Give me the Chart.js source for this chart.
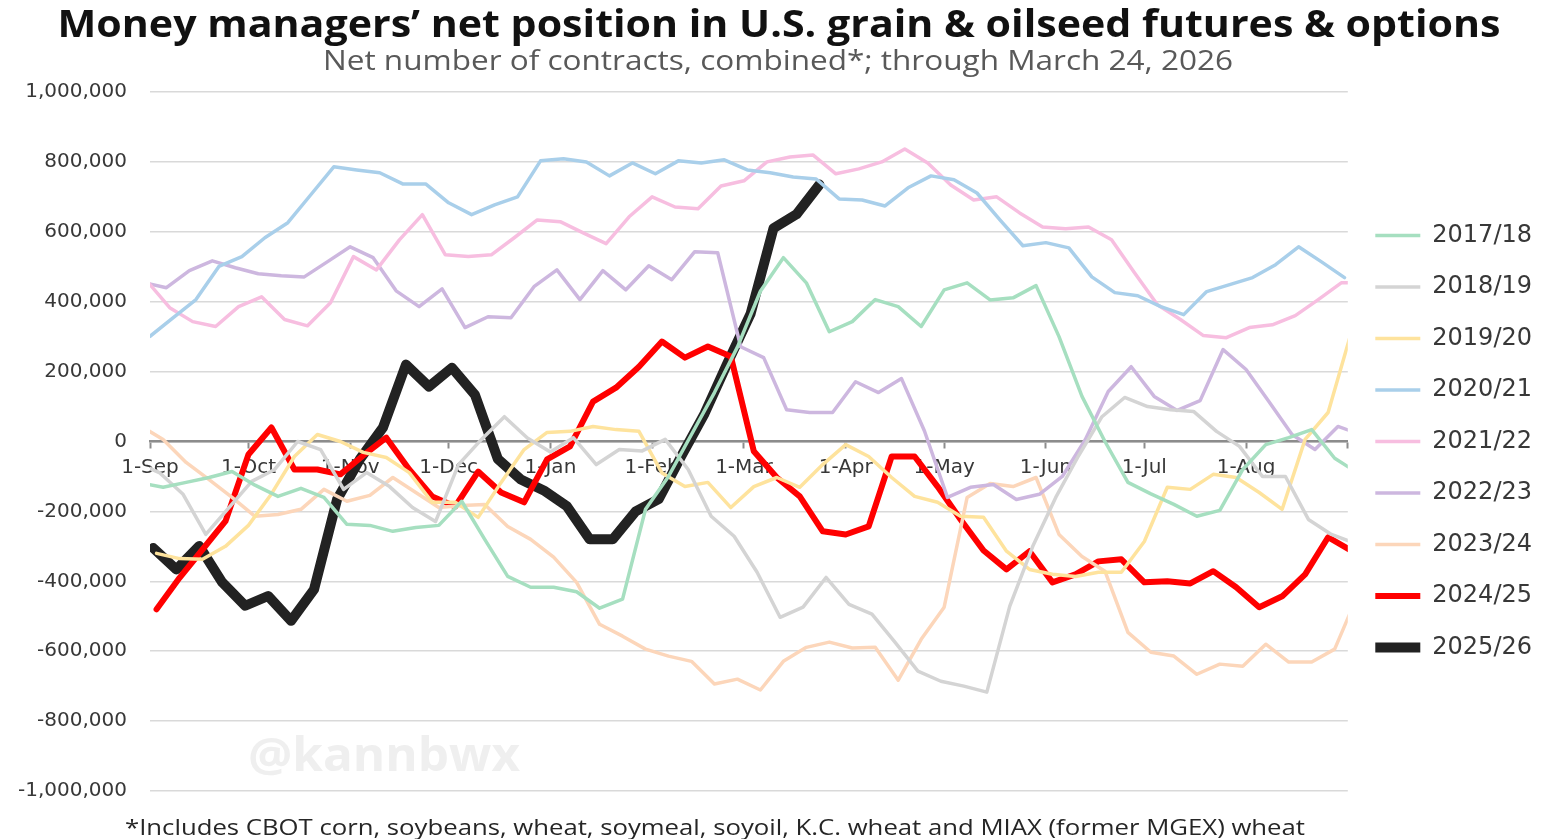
<!DOCTYPE html>
<html>
<head>
<meta charset="utf-8">
<title>Money managers' net position in U.S. grain & oilseed futures & options</title>
<script src="https://cdn.jsdelivr.net/npm/chart.js@4.4.1/dist/chart.umd.min.js"></script>
<style>
    html, body { margin: 0; padding: 0; background: #ffffff; }
    #wrap { width: 1542px; height: 839px; position: relative; }
</style>
</head>
<body>
<div id="wrap"><canvas id="chart"></canvas></div>
<script>
// -- Data --
// Net position of money managers, thousand contracts, one value per weekly (Tuesday) report
const seasons = ['2017/18', '2018/19', '2019/20', '2020/21', '2021/22', '2022/23', '2023/24', '2024/25', '2025/26'];

// Day of the first report in each list, counted from 1-Sep of the season
const firstReportDay = [-3, -4, 2, 0, -1, -2, -3, 2, 1];

const net1718 = [-118, -131, -117, -103, -86, -125, -157, -134, -160, -237, -240, -257, -246, -240, -171, -280, -386, -417,
    -417, -430, -477, -451, -194, -100, 20, 140, 270, 430, 526, 454, 314, 343, 406, 386, 329, 434, 454, 405, 411, 446,
    300, 129, 0, -117, -150, -180, -214, -197, -80, -9, 11, 34, -48, -90];
const net1819 = [-60, -90, -150, -266, -190, -114, -80, 0, -23, -137, -89, -129, -189, -229, -66, 6, 71, 10,
    -30, 11, -66, -23, -27, 6, -80, -214, -271, -374, -503, -474, -389, -466, -494, -574, -657, -686, -700, -717,
    -471, -300, -160, -40, 70, 126, 100, 91, 86, 29, -14, -100, -100, -223, -266, -290];
const net1920 = [-320, -335, -337, -300, -240, -150, -43, 20, 0, -31, -46, -89, -174, -174, -217, -117, -23, 26,
    29, 43, 34, 29, -90, -129, -117, -189, -129, -103, -131, -66, -9, -43, -103, -157, -174, -214, -217, -314,
    -366, -380, -386, -374, -374, -286, -131, -137, -94, -103, -146, -194, 6, 83, 310];
const net2021 = [301, 354, 406, 501, 529, 583, 626, 706, 786, 777, 769, 737, 737, 683, 649, 677, 700, 803,
    809, 800, 760, 797, 766, 803, 797, 806, 777, 769, 757, 751, 694, 691, 674, 726, 760, 749, 711, 634,
    560, 569, 554, 471, 426, 417, 386, 363, 429, 449, 469, 506, 557, 514, 469];
const net2122 = [460, 383, 343, 329, 386, 414, 349, 331, 397, 529, 491, 577, 649, 534, 529, 534, 583, 634,
    629, 597, 566, 643, 700, 671, 666, 731, 746, 800, 814, 820, 766, 780, 800, 837, 797, 734, 691, 700,
    654, 614, 609, 614, 577, 483, 391, 349, 303, 297, 326, 334, 360, 406, 454, 455];
const net2223 = [455, 440, 489, 517, 497, 480, 474, 471, 514, 557, 526, 431, 386, 437, 326, 357, 354, 443,
    491, 406, 489, 434, 503, 463, 543, 540, 271, 240, 91, 83, 83, 171, 140, 180, 30, -160, -131, -123,
    -166, -151, -100, 5, 143, 214, 129, 89, 117, 263, 206, 114, 20, -23, 43, 20];
const net2324 = [45, 6, -60, -109, -160, -214, -209, -194, -137, -171, -154, -103, -146, -189, -183, -180, -243, -280,
    -331, -403, -523, -557, -594, -614, -629, -694, -680, -711, -629, -589, -574, -591, -589, -683, -566, -474, -160, -120,
    -129, -103, -266, -329, -371, -546, -603, -614, -666, -637, -643, -580, -631, -631, -594, -440];
const net2425 = [-480, -390, -309, -228, -37, 40, -80, -80, -94, -40, 11, -80, -157, -186, -86, -146, -174, -51,
    -14, 114, 154, 214, 286, 240, 272, 243, -28, -103, -157, -257, -266, -243, -43, -43, -129, -223, -312, -366,
    -314, -403, -380, -343, -337, -403, -400, -406, -371, -417, -474, -443, -380, -274, -312];
const net2526 = [-305, -366, -299, -403, -470, -442, -513, -423, -166, -50, 40, 220, 157, 211, 134, -50, -109, -140,
    -185, -280, -280, -200, -165, -40, 80, 225, 365, 610, 650, 735];

const seriesValues = [net1718, net1819, net1920, net2021, net2122, net2223, net2324, net2425, net2526];

// x axis: days since 1-Sep, ticks at the first of each month
const monthStartDays = [0, 30, 61, 91, 122, 153, 181, 212, 242, 273, 303, 334, 365];
const monthLabels = ['1-Sep', '1-Oct', '1-Nov', '1-Dec', '1-Jan', '1-Feb', '1-Mar', '1-Apr', '1-May', '1-Jun', '1-Jul', '1-Aug', ''];

// -- Styles --
const lineColors = ['#a6dfc0', '#d4d4d4', '#fee39d', '#a9cfea', '#f7bee0', '#cdb7df', '#fcd6ba', '#ff0000', '#222222'];
const lineWidths = [3.5, 3.5, 3.5, 3.5, 3.5, 3.5, 3.5, 6, 10];

const titleText = 'Money managers\u2019 net position in U.S. grain & oilseed futures & options';
const subtitleText = 'Net number of contracts, combined*; through March 24, 2026';
const footnoteText = '*Includes CBOT corn, soybeans, wheat, soymeal, soyoil, K.C. wheat and MIAX (former MGEX) wheat';
const watermarkText = '@kannbwx';

// Draws text squeezed/stretched horizontally to a given width
function drawFittedText(ctx, text, font, color, centerX, baseline, width) {
    ctx.save();
    ctx.font = font;
    const scaleX = width / ctx.measureText(text).width;
    ctx.translate(centerX, baseline);
    ctx.scale(scaleX, 1);
    ctx.fillStyle = color;
    ctx.textAlign = 'center';
    ctx.textBaseline = 'alphabetic';
    ctx.fillText(text, 0, 0);
    ctx.restore();
}

const textBlocks = {
    id: 'textBlocks',
    beforeDatasetsDraw(chart) {
        drawFittedText(chart.ctx, watermarkText, 'bold 46px "Open Sans"', '#efefef', 384, 771, 272);
    },
    afterDraw(chart) {
        const ctx = chart.ctx;
        drawFittedText(ctx, titleText, 'bold 38px "Open Sans"', '#111111', 779, 37, 1443);
        drawFittedText(ctx, subtitleText, '28px "Open Sans"', '#595959', 778, 70, 910);
        drawFittedText(ctx, footnoteText, '22px "Open Sans"', '#262626', 715, 835, 1180);
    }
};

const datasets = seasons.map((season, s) => ({
    label: season,
    data: seriesValues[s].map((v, i) => ({ x: firstReportDay[s] + 7 * i, y: v })),
    borderColor: lineColors[s],
    backgroundColor: lineColors[s],
    borderWidth: lineWidths[s],
    borderCapStyle: 'round',
    borderJoinStyle: 'round',
    pointRadius: 0,
    pointHoverRadius: 0,
    tension: 0
}));

const ctx = document.getElementById('chart').getContext('2d');
new Chart(ctx, {
    type: 'line',
    data: { datasets: datasets },
    options: {
        responsive: true,
        maintainAspectRatio: false,
        animation: false,
        layout: { padding: { top: 92, bottom: 48, left: 0, right: 0 } },
        scales: {
            x: {
                type: 'linear',
                min: 0,
                max: 365,
                position: { y: 0 },
                afterBuildTicks: (scale) => {
                    scale.ticks = monthStartDays.map(d => ({ value: d }));
                },
                ticks: {
                    autoSkip: false,
                    maxRotation: 0,
                    padding: 8,
                    color: '#383838',
                    font: { family: 'DejaVu Sans', size: 20 },
                    callback: (value, index) => monthLabels[index]
                },
                grid: {
                    drawOnChartArea: false,
                    drawTicks: true,
                    tickLength: 6,
                    tickColor: '#8c8c8c',
                    tickWidth: 2
                },
                border: { display: true, color: '#8c8c8c', width: 2.5 }
            },
            y: {
                min: -1000,
                max: 1000,
                afterFit: (scale) => { scale.width = 150; },
                ticks: {
                    stepSize: 200,
                    padding: 23,
                    color: '#383838',
                    font: { family: 'DejaVu Sans', size: 20 },
                    callback: (value) => (value * 1000).toLocaleString('en-US')
                },
                grid: { color: '#d9d9d9', lineWidth: 1.5, drawTicks: false },
                border: { display: false }
            }
        },
        plugins: {
            title: { display: false },
            tooltip: { enabled: false },
            legend: {
                position: 'right',
                align: 'center',
                labels: {
                    usePointStyle: true,
                    pointStyle: 'line',
                    pointStyleWidth: 45,
                    padding: 27.5,
                    color: '#383838',
                    font: { family: 'DejaVu Sans', size: 24 }
                },
                onClick: (e) => e.stopPropagation()
            }
        }
    },
    plugins: [textBlocks]
});
</script>
</body>
</html>
